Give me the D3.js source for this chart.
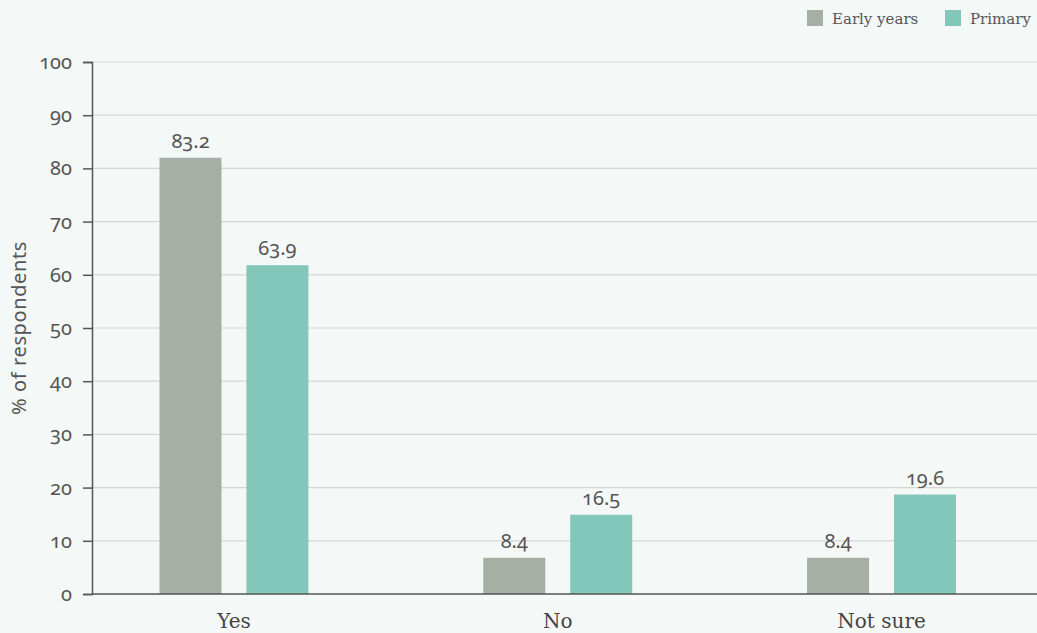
<!DOCTYPE html>
<html><head><meta charset="utf-8">
<script src="https://cdn.jsdelivr.net/npm/d3@7"></script>
<style>
html,body{margin:0;padding:0;background:#f4f8f7;}
svg{display:block;}
.sans{font-family:"Noto Sans","Open Sans",sans-serif;font-variant-numeric:oldstyle-nums;font-feature-settings:"onum";}
.slab{font-family:"DejaVu Serif",serif;}
</style></head>
<body>
<script>
const categories = ["Yes", "No", "Not sure"];
const seriesNames = ["Early years", "Primary"];
// bar heights as drawn in the picture
const earlyYears = [82.0, 6.8, 6.8];
const primary = [61.8, 14.9, 18.7];
// value labels as printed
const earlyLabels = ["83.2", "8.4", "8.4"];
const primaryLabels = ["63.9", "16.5", "19.6"];
const yTicks = [0, 10, 20, 30, 40, 50, 60, 70, 80, 90, 100];
const colors = ["#a5afa3", "#83c7bb"];

const W = 1037, H = 633;
const m = {left: 92, right: 0, top: 62, bottom: 39};
const svg = d3.select("body").append("svg").attr("width", W).attr("height", H);
svg.append("rect").attr("width", W).attr("height", H).attr("fill", "#f4f8f7");

const y = d3.scaleLinear().domain([0, 100]).range([H - m.bottom, m.top]);
const x0 = d3.scaleBand().domain(categories).range([m.left + 67.5, W - 81]).paddingInner(0.54).paddingOuter(0);
const x1 = d3.scaleBand().domain(seriesNames).range([0, x0.bandwidth()]).paddingInner(0.287);

// gridlines
svg.append("g").selectAll("line").data(yTicks.filter(t => t > 0)).join("line")
  .attr("x1", m.left).attr("x2", W - m.right)
  .attr("y1", d => y(d)).attr("y2", d => y(d))
  .attr("stroke", "#d3d8d6").attr("stroke-width", 1.2);

const rows = categories.map((c, i) => ({
  cat: c,
  vals: [
    {s: seriesNames[0], v: earlyYears[i], lab: earlyLabels[i], col: colors[0]},
    {s: seriesNames[1], v: primary[i], lab: primaryLabels[i], col: colors[1]}
  ]
}));

const g = svg.append("g").selectAll("g").data(rows).join("g")
  .attr("transform", d => `translate(${x0(d.cat)},0)`);
g.selectAll("rect").data(d => d.vals).join("rect")
  .attr("x", d => x1(d.s)).attr("width", x1.bandwidth())
  .attr("y", d => y(d.v)).attr("height", d => y(0) - y(d.v))
  .attr("fill", d => d.col);
g.selectAll("text").data(d => d.vals).join("text")
  .attr("class", "sans")
  .attr("x", d => x1(d.s) + x1.bandwidth() / 2)
  .attr("y", d => y(d.v) - 10)
  .attr("text-anchor", "middle").attr("font-size", 20).attr("fill", "#555")
  .text(d => d.lab);

// y axis
const yAxis = d3.axisLeft(y).tickValues(yTicks).tickSize(9).tickPadding(11);
const ya = svg.append("g").attr("transform", `translate(${m.left},0)`).call(yAxis)
  .attr("font-family", null).attr("font-size", null);
ya.select(".domain").attr("stroke", "#555").attr("stroke-width", 1.5);
ya.selectAll(".tick line").attr("stroke", "#555").attr("stroke-width", 1.5);
ya.selectAll(".tick text")
  .style("font-family", "'Noto Sans','Open Sans',sans-serif")
  .style("font-variant-numeric", "oldstyle-nums")
  .style("font-feature-settings", "'onum' 1")
  .style("font-size", "20px").attr("fill", "#555");

// x axis
const xa = svg.append("g").attr("transform", `translate(0,${y(0)})`)
  .call(d3.axisBottom(x0).tickSize(0).tickPadding(20));
xa.select(".domain").attr("stroke", "#555").attr("stroke-width", 1.5)
  .attr("d", `M${m.left},0H${W - m.right}`);
xa.selectAll(".tick text").attr("class", "slab").attr("font-size", 20).attr("fill", "#444")
  .attr("dy", "0.71em");

// y title
svg.append("text").attr("class", "sans")
  .attr("transform", `translate(26,${(y(0) + y(100)) / 2}) rotate(-90)`)
  .attr("text-anchor", "middle").attr("font-size", 20).attr("letter-spacing", 0.6).attr("fill", "#555")
  .text("% of respondents");

// legend
const lg = svg.append("g").attr("class", "slab");
const legX = [807, 945];
seriesNames.forEach((s, i) => {
  lg.append("rect").attr("x", legX[i]).attr("y", 10).attr("width", 16).attr("height", 16).attr("fill", colors[i]);
  lg.append("text").attr("x", legX[i] + 25).attr("y", 24).attr("font-size", 15).attr("fill", "#555").text(s);
});
</script>
</body></html>
